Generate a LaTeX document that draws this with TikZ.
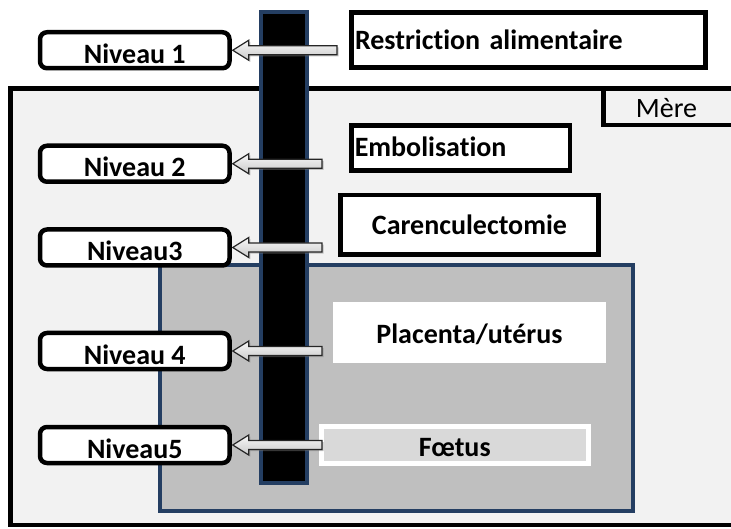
\documentclass[tikz,border=0pt]{standalone}
\usepackage{fontspec}
\setmainfont{Carlito}[Ligatures={NoCommon}]
\usetikzlibrary{calc,positioning,shadows}
\definecolor{barblue}{RGB}{36,62,98}
\definecolor{mothergray}{RGB}{242,242,242}
\definecolor{uterusgray}{RGB}{191,191,191}
\definecolor{foetusgray}{RGB}{217,217,217}

\newcommand{\levelarrow}[2]{%
\draw[levelarr] ($(#1)+(0,-4.5)$) -- ($(#2.east)+(17,-4.5)$) -- ($(#2.east)+(17,-10)$) -- ($(#2.east)+(1,0)$)
  -- ($(#2.east)+(17,10)$) -- ($(#2.east)+(17,4.5)$) -- ($(#1)+(0,4.5)$) -- cycle;}

\begin{document}
\begin{tikzpicture}[x=1pt, y=-1pt, font=\fontsize{28}{32}\selectfont\bfseries]

\tikzset{
frame/.style={draw=black,line width=4.5pt},
level/.style={frame,fill=white,rounded corners=7pt,minimum width=189.5pt,minimum height=36pt,inner sep=0pt,text height=26pt,text depth=0pt},
factor/.style={frame,fill=white,inner sep=0pt},
uterus/.style={draw=barblue,line width=4pt,fill=uterusgray},
bar/.style={draw=barblue,line width=4pt,fill=black},
levelarr/.style={draw=black!85,line width=1.2pt,top color=gray!6,bottom color=gray!42,drop shadow={shadow xshift=1.6pt,shadow yshift=-1.6pt,opacity=0.45}}
}

\clip (0,0) rectangle (731,529);

% Mere
\draw[frame,fill=mothergray] (10.5,88.5) rectangle (745,525);
\draw[frame] (603.5,88.5) |- (745,125);
\node[anchor=base,font=\fontsize{28}{32}\selectfont\mdseries] (mere) at (666.5,118) {Mère};

% Factors
\node[factor,minimum width=354pt,minimum height=55pt,text width=347pt,align=left,text height=20pt,text depth=0pt] (restr) at (528.5,40) {Restriction alimentaire};
\node[factor,minimum width=218.5pt,minimum height=45pt,text width=212pt,align=left,text height=17pt,text depth=0pt] (embol) at (460.75,148) {Embolisation};
\node[factor,minimum width=258pt,minimum height=59.5pt,text height=20pt,text depth=0pt] (caren) at (469.5,224.75) {Carenculectomie};

% Placenta and foetus
\draw[uterus] (159.5,265.5) rectangle (633,510.5);
\node[fill=white,minimum width=273pt,minimum height=61pt,inner sep=0pt,text height=23pt,text depth=0pt] (plac) at (469.5,332.5) {Placenta/utérus};
\node[fill=foetusgray,draw=white,line width=5pt,minimum width=267.5pt,minimum height=37pt,inner sep=0pt,text height=22pt,text depth=0pt] (foetus) at (454.75,445) {Fœtus};

% Levels
\node[level] (niv1) at (134.75,50.25) {Niveau 1};
\node[level] (niv2) at (134.75,163.75) {Niveau 2};
\node[level] (niv3) at (134.75,247.5) {Niveau3};
\node[level] (niv4) at (134.75,351) {Niveau 4};
\node[level] (niv5) at (134.75,445) {Niveau5};

% Bar
\draw[bar] (261,12.5) rectangle (307,482.5);

% Arrows
\coordinate (tail1) at (niv1 -| 337,0);
\coordinate (tail2) at (niv2 -| 322,0);
\coordinate (tail3) at (niv3 -| 322,0);
\coordinate (tail4) at (niv4 -| 322,0);
\coordinate (tail5) at (niv5 -| 322,0);

\levelarrow{tail1}{niv1}
\levelarrow{tail2}{niv2}
\levelarrow{tail3}{niv3}
\levelarrow{tail4}{niv4}
\levelarrow{tail5}{niv5}

\end{tikzpicture}
\end{document}
